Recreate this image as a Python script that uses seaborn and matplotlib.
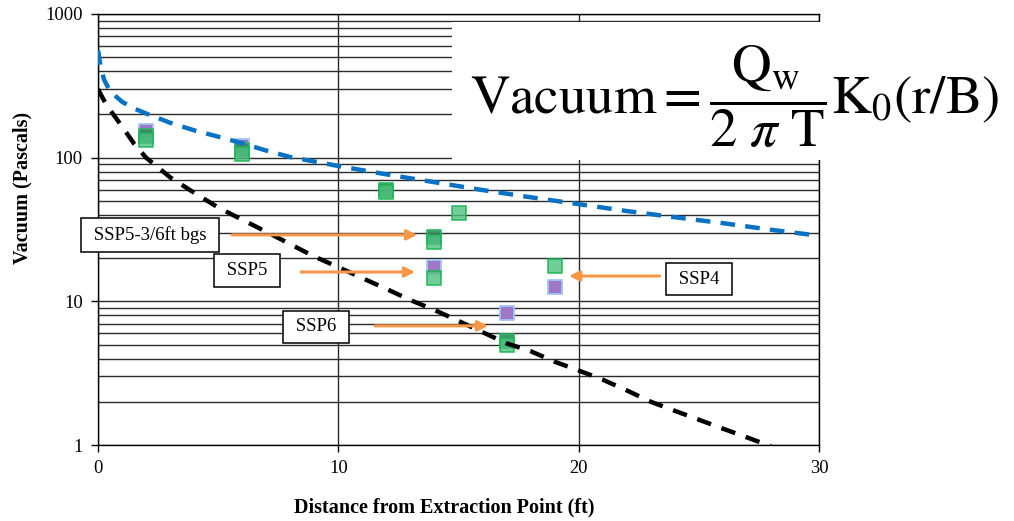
import matplotlib
matplotlib.use("Agg")
import matplotlib.pyplot as plt
import seaborn as sns
import pandas as pd
from matplotlib.patches import Rectangle
from matplotlib.ticker import LogLocator, NullFormatter, FixedLocator

# ---------------- data ----------------
# Model curve 1 (blue dashed)
blue_dist = [0, 0.1, 0.25, 0.5, 1, 1.5, 2, 3, 4, 5, 6, 7, 8, 10, 12, 14, 16, 18,
             20, 22, 24, 26, 28, 30]
blue_vac = [560, 440, 350, 290, 245, 220, 203, 175, 155, 140, 126, 112, 101, 87.5,
            76.5, 67.5, 59.5, 53, 47.5, 42.5, 38.5, 35, 31.5, 28.6]

# Model curve 2 (black dashed)
black_dist = [0, 0.25, 0.5, 1, 1.5, 2, 3, 4, 5, 6, 7, 8, 9, 10, 11, 12, 13, 14, 15,
              16, 17, 18, 19, 20, 21, 22, 23, 24, 25, 26, 27, 28]
black_vac = [300, 250, 215, 165, 125, 100, 73, 57, 45, 37, 30.5, 25, 20.5, 17.3,
             14.5, 12.2, 10.2, 8.7, 7.3, 6.1, 5.1, 4.5, 3.8, 3.3, 2.85, 2.4, 2.0,
             1.73, 1.5, 1.3, 1.13, 0.98]

# Measured points
light_dist = [2, 6, 12, 14, 14, 15, 17, 19]
light_vac = [133, 106, 57.5, 26, 14.5, 41, 5.0, 17.6]
dark_dist = [2, 6, 12, 14, 17]
dark_vac = [142, 113, 59.5, 28, 5.3]
purple_dist = [2, 6, 14, 17, 19]
purple_vac = [153, 121, 17.4, 8.3, 12.6]

x_ticks = [0, 10, 20, 30]
y_ticks = [1, 10, 100, 1000]
y_tick_labels = ["1", "10", "100", "1000"]

callout_labels = ["SSP5-3/6ft bgs", "SSP5", "SSP6", "SSP4"]
x_label = "Distance from Extraction Point (ft)"
y_label = "Vacuum (Pascals)"
equation = r"$\mathrm{Vacuum} = \dfrac{\mathrm{Q_w}}{2\ \pi\ \mathrm{T}}\mathrm{K_0(r/B)}$"

# ---------------- layout / style ----------------
callout_pos = [(2.16, 29.0), (6.2, 16.3), (9.07, 6.64), (25.0, 14.3)]
arrow_pos = [((5.58, 29.0), (13.28, 29.0)),
             ((8.45, 16.0), (13.19, 16.0)),
             ((11.53, 6.75), (16.23, 6.75)),
             ((23.37, 15.0), (19.6, 15.0))]

sns.set_theme(style="white")
plt.rcParams["font.family"] = ["Liberation Serif", "DejaVu Serif"]
plt.rcParams["mathtext.fontset"] = "stix"

W, H = 1014, 521
fig = plt.figure(figsize=(W / 100, H / 100), dpi=100)
ax = fig.add_axes([98 / W, 1 - 445 / H, 721 / W, 431 / H])

df_blue = pd.DataFrame({"d": blue_dist, "v": blue_vac})
df_black = pd.DataFrame({"d": black_dist, "v": black_vac})
df_light = pd.DataFrame({"d": light_dist, "v": light_vac})
df_dark = pd.DataFrame({"d": dark_dist, "v": dark_vac})
df_purple = pd.DataFrame({"d": purple_dist, "v": purple_vac})

ms = 90
sns.scatterplot(data=df_purple, x="d", y="v", marker="s", s=ms,
                color=(0.62, 0.47, 0.78), edgecolor=(0.62, 0.78, 0.95),
                linewidth=1.3, ax=ax, zorder=2)
sns.scatterplot(data=df_dark, x="d", y="v", marker="s", s=ms,
                color=(0.22, 0.52, 0.38), edgecolor=(0.15, 0.72, 0.38),
                linewidth=1.3, alpha=0.9, ax=ax, zorder=2)
sns.scatterplot(data=df_light, x="d", y="v", marker="s", s=ms,
                color=(0.30, 0.76, 0.50), edgecolor=(0.10, 0.70, 0.32),
                linewidth=1.3, alpha=0.8, ax=ax, zorder=2)

sns.lineplot(data=df_blue, x="d", y="v", color="#0a72c4", lw=3.2,
             sort=False, estimator=None, ax=ax, zorder=3)
ax.lines[-1].set_dashes((3.3, 2.3))
sns.lineplot(data=df_black, x="d", y="v", color="black", lw=3.2,
             sort=False, estimator=None, ax=ax, zorder=3)
ax.lines[-1].set_dashes((3.3, 2.5))

ax.set_yscale("log")
ax.set_xlim(0, 30)
ax.set_ylim(1, 1000)
ax.xaxis.set_major_locator(FixedLocator(x_ticks))
ax.yaxis.set_major_locator(FixedLocator(y_ticks))
ax.set_yticklabels(y_tick_labels)
ax.yaxis.set_minor_locator(LogLocator(base=10, subs=[2, 3, 4, 5, 6, 7, 8, 9]))
ax.yaxis.set_minor_formatter(NullFormatter())

ax.tick_params(which="major", direction="out", length=5, width=1,
               color="black", labelcolor="black", labelsize=13.3,
               bottom=True, left=True, pad=6)
ax.tick_params(which="minor", length=0)

ax.yaxis.grid(True, which="both", color="#2a2a2a", lw=1.0)
ax.xaxis.grid(True, which="major", color="#2a2a2a", lw=1.0)
ax.set_axisbelow(True)
for sp in ax.spines.values():
    sp.set_color("black")
    sp.set_linewidth(1.0)

ax.set_xlabel(x_label, fontweight="bold", fontsize=14.5, color="black")
ax.set_ylabel(y_label, fontweight="bold", fontsize=14.5, color="black")
ax.xaxis.set_label_coords(0.4806, -0.144)
ax.xaxis.label.set_va("center")
ax.yaxis.set_label_coords(-0.105, 0.597)
ax.yaxis.label.set_va("center")

orange = "#F79646"
for (tail, head) in arrow_pos:
    ax.annotate("", xy=head, xytext=tail,
                arrowprops=dict(arrowstyle="-|>", color=orange, lw=2.2,
                                mutation_scale=15, shrinkA=0, shrinkB=0),
                zorder=4)

for lab, (px, py) in zip(callout_labels, callout_pos):
    ax.text(px, py, " " + lab + " ", ha="center", va="center", fontsize=13.5,
            color="black", zorder=6, clip_on=False,
            bbox=dict(boxstyle="square,pad=0.42", fc="white", ec="black", lw=1.1))

# Equation panel (white box hiding the gridlines behind it)
fig.add_artist(Rectangle((452 / W, 1 - 160 / H), 562 / W, 138 / H,
                         transform=fig.transFigure, fc="white", ec="none", zorder=3))
fig.text(735 / W, 1 - 97 / H, equation, fontsize=39.5, ha="center", va="center",
         color="black", zorder=4)

fig.savefig("out.png", dpi=100)
